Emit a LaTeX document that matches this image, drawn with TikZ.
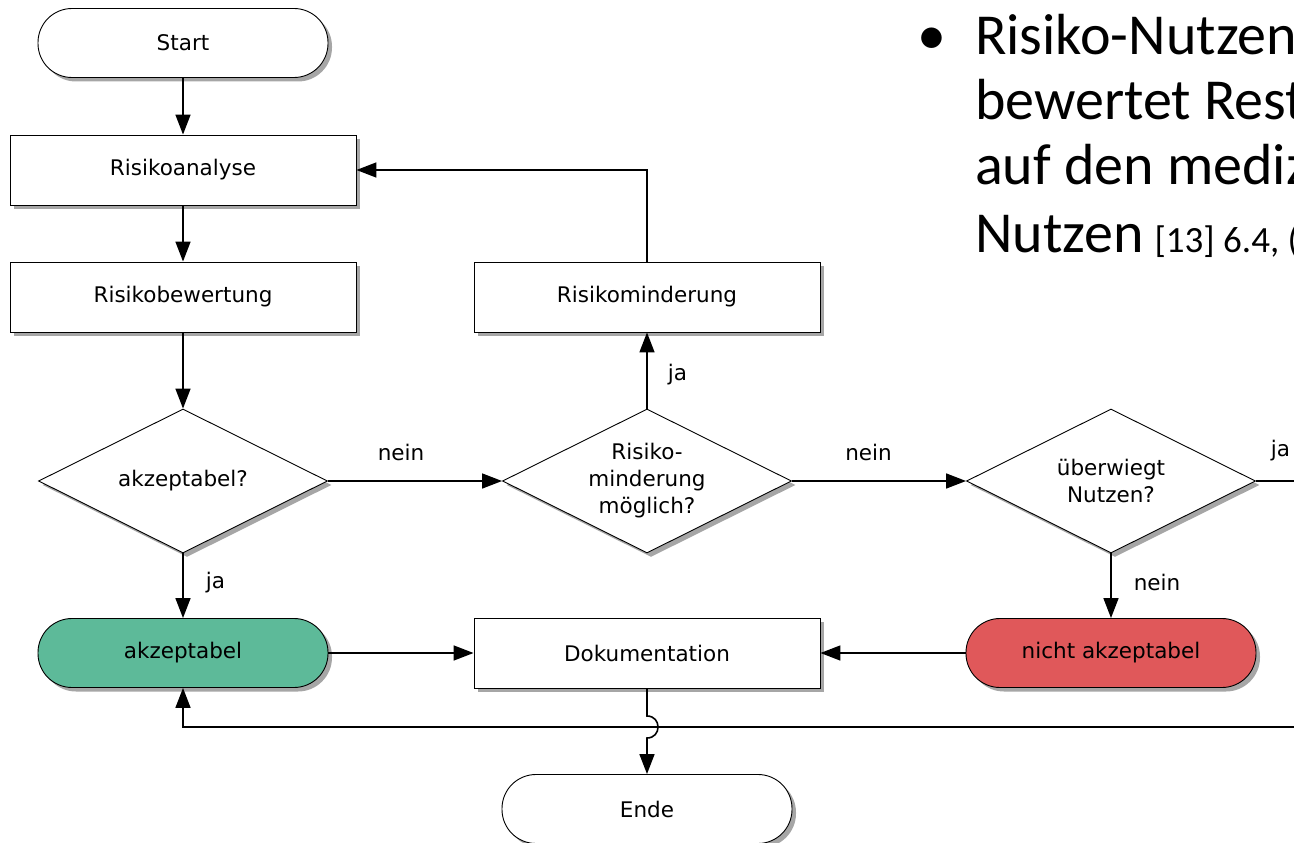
\documentclass[tikz,border=0pt]{standalone}
\usepackage{fontspec}
\setmainfont{DejaVu Sans}
\newfontfamily\calib{Carlito}
\usetikzlibrary{shapes.geometric,arrows.meta,shadows}
\definecolor{accgreen}{RGB}{93,186,153}
\definecolor{nacred}{RGB}{224,88,90}
\newcommand\dfont{\fontsize{21.5}{27}\selectfont}
\begin{document}
\begin{tikzpicture}[x=1pt,y=-1pt,
  base/.style={draw=black, line width=0.9pt, font=\dfont, fill=white,
    drop shadow={shadow xshift=4pt, shadow yshift=-4pt, opacity=0.35, fill=black}},
  term/.style={base, rectangle, rounded corners=34pt, minimum width=290pt, minimum height=69pt},
  proc/.style={base, rectangle, minimum width=346pt, minimum height=70pt},
  dec/.style={base, diamond, minimum width=289pt, minimum height=144pt, inner sep=0pt},
  dtext/.style={font=\dfont, align=center, inner sep=0pt},
  conn/.style={line width=1.6pt, -{Triangle[length=20pt,width=15pt]}},
  lbl/.style={font=\dfont, inner sep=0pt},
  big/.style={font=\calib\fontsize{58}{68}\selectfont, inner sep=0pt, anchor=base west}
]
\clip (0,0) rectangle (1294,843);
\fill[white] (0,0) rectangle (1294,843);

% bullet text
\node[big, anchor=base] (bul) at (932,55) {•};
\node[big] (t1) at (975,55) {Risiko-Nutzen};
\node[big] (t2) at (975,119) {bewertet Rest};
\node[big] (t3) at (975,184) {auf den mediz};
\node[big] (t4) at (975,252) {Nutzen\hspace{-2pt} {\fontsize{37}{42}\selectfont [13] 6.4, (}};

% nodes
\node[term] (start) at (183,43) {Start};
\node[proc] (ana) at (183,170) {Risikoanalyse};
\node[proc] (bew) at (183,297) {Risikobewertung};
\node[dec] (q1) at (183,481) {};
\node[dtext] (q1t) at (q1) {akzeptabel?};
\node[proc] (mind) at (647,297) {Risikominderung};
\node[dec] (q2) at (647,481) {};
\node[dtext] (q2t) at (q2) {Risiko-\\minderung\\möglich?};
\node[dec] (q3) at (1111,481) {};
\node[dtext] (q3t) at (q3) {überwiegt\\Nutzen?};
\node[term, fill=accgreen] (acc) at (183,653) {akzeptabel};
\node[proc] (doc) at (647,653) {Dokumentation};
\node[term, fill=nacred] (nacc) at (1111,653) {nicht akzeptabel};
\node[term] (ende) at (647,809) {Ende};

\coordinate (rt) at (1350,481);
\coordinate (rb) at (1350,727);
\coordinate (h1) at (647,716);
\coordinate (h2) at (647,738);

% connectors
\draw[conn] (start) -- (ana);
\draw[conn] (ana) -- (bew);
\draw[conn] (bew) -- (q1);
\draw[conn] (q1) -- node[lbl, pos=0.45, right=22pt] {ja} (acc);
\draw[conn] (q1) -- node[lbl, pos=0.42, above=19pt] {nein} (q2);
\draw[conn] (q2) -- node[lbl, pos=0.45, right=20pt] {ja} (mind);
\draw[conn] (mind.north) |- (ana.east);
\draw[conn] (q2) -- node[lbl, pos=0.44, above=19pt] {nein} (q3);
\draw[conn] (q3) -- node[lbl, pos=0.45, right=22pt] {nein} (nacc);
\draw[conn] (q3.east) -- node[lbl, pos=0.26, above=19pt] {ja} (rt) -- (rb) -| (acc.south);
\draw[conn] (acc) -- (doc);
\draw[conn] (nacc) -- (doc);
\draw[conn] (doc.south) -- (h1) .. controls +(14.7,0) and +(14.7,0) .. (h2) -- (ende.north);
\end{tikzpicture}
\end{document}
